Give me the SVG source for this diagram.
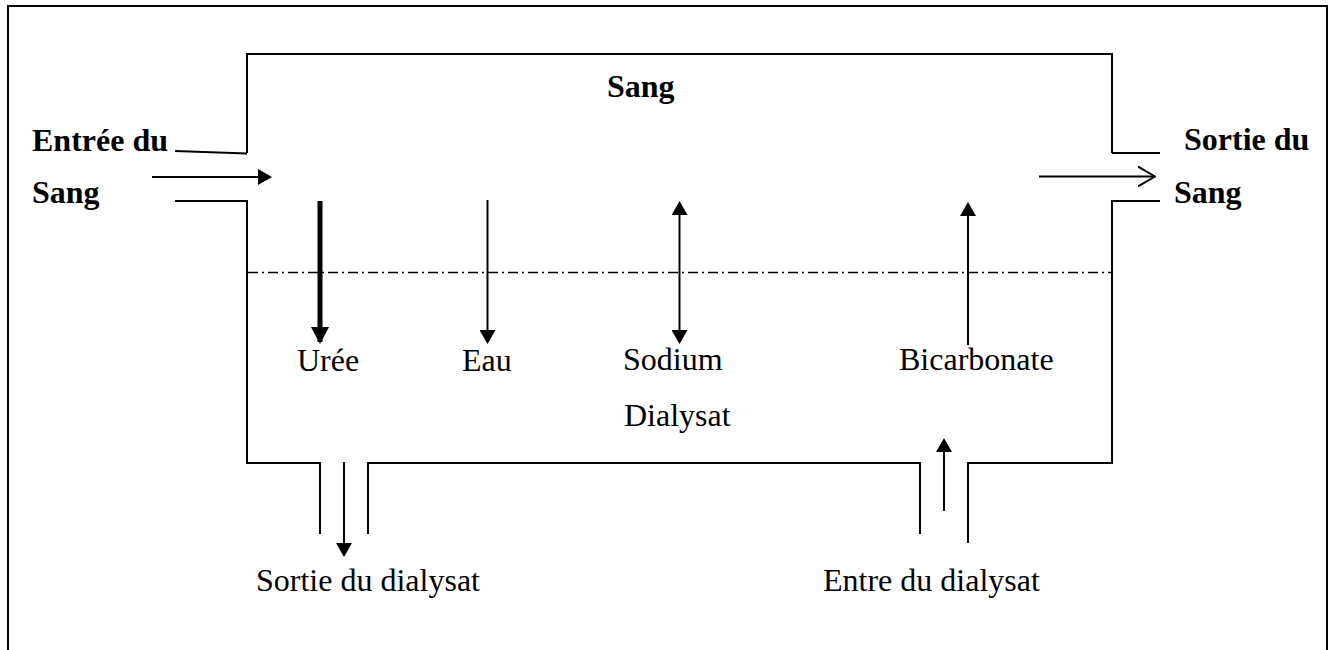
<svg xmlns="http://www.w3.org/2000/svg" width="1335" height="650" viewBox="0 0 1335 650">
<style>
.ln{fill:none;stroke:#000;stroke-width:2}
.dd{fill:none;stroke:#000;stroke-width:1.3;stroke-dasharray:10 4 2 4}
.ar{fill:none;stroke:#000;stroke-width:2}
.arB{fill:none;stroke:#000;stroke-width:5}
.t{font-family:"Liberation Serif","Times New Roman",serif;font-size:32px;fill:#000}
.b{font-weight:bold}
</style>
<defs>
<marker id="head" viewBox="0 0 14 16" refX="12" refY="8" markerWidth="14" markerHeight="16" markerUnits="userSpaceOnUse" orient="auto-start-reverse">
<path d="M0,0 L14,8 L0,16 z" fill="#000"/>
</marker>
<marker id="headBig" viewBox="0 0 17 18" refX="15" refY="9" markerWidth="17" markerHeight="18" markerUnits="userSpaceOnUse" orient="auto">
<path d="M0,0 L17,9 L0,18 z" fill="#000"/>
</marker>
<marker id="open" viewBox="0 0 18 22" refX="17" refY="11" markerWidth="18" markerHeight="22" markerUnits="userSpaceOnUse" orient="auto">
<path d="M0,1 L17,11 L0,21" fill="none" stroke="#000" stroke-width="2"/>
</marker>
</defs>
<g id="frame">
<path class="ln" d="M8,650 V6 H1327 V650"/>
</g>
<g id="dialyzer">
<path class="ln" d="M247,153 V54 H1112 V153"/>
<path class="ln" d="M175,151 L247,153.5"/>
<path class="ln" d="M175,201 H247 V463 H320 V534"/>
<path class="ln" d="M368,534 V463 H920 V534"/>
<path class="ln" d="M968,543 V463 H1112 V201 H1160"/>
<path class="ln" d="M1112,153 H1160"/>
<path class="dd" d="M248,272.5 H1112"/>
</g>
<g id="connectors">
<line class="ar" x1="152" y1="177" x2="270" y2="177" marker-end="url(#head)"/>
<line class="ar" x1="1039" y1="176.5" x2="1155" y2="176.5" marker-end="url(#open)"/>
<line class="arB" x1="320" y1="201" x2="320" y2="342" marker-end="url(#headBig)"/>
<line class="ar" x1="487.5" y1="200" x2="487.5" y2="342" marker-end="url(#head)"/>
<line class="ar" x1="679.5" y1="203" x2="679.5" y2="342" marker-start="url(#head)" marker-end="url(#head)"/>
<line class="ar" x1="968" y1="345" x2="968" y2="204" marker-end="url(#head)"/>
<line class="ar" x1="344" y1="462" x2="344" y2="555" marker-end="url(#head)"/>
<line class="ar" x1="944" y1="511" x2="944" y2="440" marker-end="url(#head)"/>
</g>
<g id="labels">
<text class="t b" x="607" y="97">Sang</text>
<text class="t b" x="32" y="151">Entrée du</text>
<text class="t b" x="32" y="203">Sang</text>
<text class="t b" x="1184" y="150">Sortie du</text>
<text class="t b" x="1174" y="203">Sang</text>
<text class="t" x="297" y="371">Urée</text>
<text class="t" x="462" y="371">Eau</text>
<text class="t" x="623" y="370">Sodium</text>
<text class="t" x="899" y="370">Bicarbonate</text>
<text class="t" x="624" y="426">Dialysat</text>
<text class="t" x="256" y="591">Sortie du dialysat</text>
<text class="t" x="823" y="591">Entre du dialysat</text>
</g>
</svg>
